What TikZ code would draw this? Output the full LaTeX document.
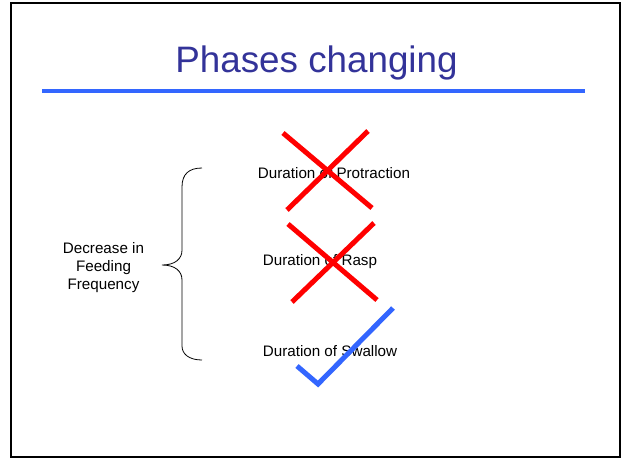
\documentclass[tikz,border=0pt]{standalone}
\usepackage{fontspec}
\setmainfont{Liberation Sans}
\definecolor{titleblue}{RGB}{51,51,153}
\definecolor{lineblue}{RGB}{51,102,255}
\begin{document}
\begin{tikzpicture}[x=1pt,y=-1pt,
  label15/.style={inner sep=0pt, font=\fontsize{15.2}{18}\selectfont, text=black},
  redmark/.style={draw=red, line width=5pt},
  bluemark/.style={draw=lineblue, line width=5pt}]
\useasboundingbox (0,0) rectangle (623,459);
\fill[white] (0,0) rectangle (623,459);
\draw[line width=2pt, black] (11,3) rectangle (620,457);
% title
\node[anchor=base, inner sep=0pt, text=titleblue, font=\fontsize{36.8}{44}\selectfont] (title) at (316.5,72) {Phases changing};
\coordinate (ruleL) at (42,91);
\coordinate (ruleR) at (585,91);
\draw[lineblue, line width=3.5pt] (ruleL) -- (ruleR);
% labels
\node[label15, anchor=base] (prot) at (334,178) {Duration of Protraction};
\node[label15, anchor=base] (rasp) at (320,265) {Duration of Rasp};
\node[label15, anchor=base] (swal) at (330,356) {Duration of Swallow};
\node[label15, align=center] (dec) at (103.5,268) {Decrease in\\Feeding\\Frequency};
% brace
\draw[black, line width=0.8pt] (202,168) .. controls (189,168) and (182,174) .. (182,187)
  -- (182,250) .. controls (182,259) and (175,265) .. (162,265)
  .. controls (175,265) and (182,271) .. (182,280)
  -- (182,346) .. controls (182,354) and (189,360) .. (202,360);
% red crosses
\draw[redmark] (283,133) -- (372,208);
\draw[redmark] (368,131) -- (287,210);
\draw[redmark] (288,224) -- (377,300);
\draw[redmark] (374,223) -- (292,302);
% check mark
\draw[bluemark] (297,366) -- (318,384) -- (393,308);
\end{tikzpicture}
\end{document}
